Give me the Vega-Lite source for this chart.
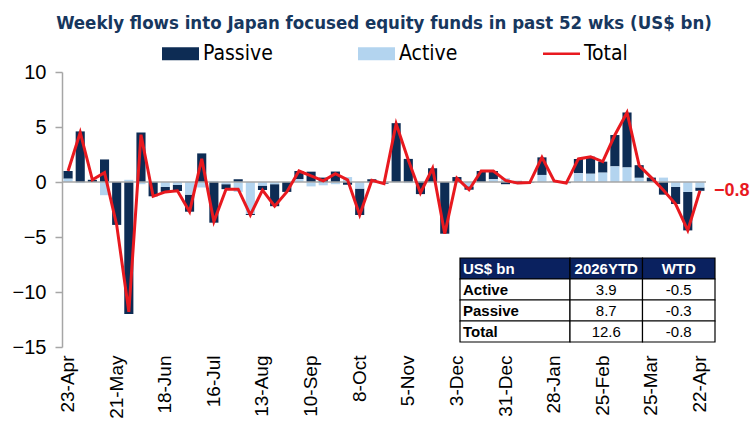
{
  "$schema": "https://vega.github.io/schema/vega-lite/v6.json",
  "width": 644,
  "height": 275,
  "autosize": {"type": "none"},
  "padding": {"left": 62, "top": 72, "right": 47, "bottom": 83},
  "background": "white",
  "title": {
    "text": "Weekly flows into Japan focused equity funds in past 52 wks (US$ bn)",
    "anchor": "middle",
    "font": "DejaVu Sans Condensed",
    "fontSize": 18.5,
    "fontWeight": "bold",
    "color": "#17375E",
    "offset": 3
  },
  "config": {
    "view": {"stroke": null},
    "axis": {"labelFont": "Liberation Sans", "grid": false}
  },
  "datasets": {
    "weeks": [
      {"week": "23-Apr", "Passive": 0.7, "Active": 0.3, "Total": 1.0},
      {"week": "30-Apr", "Passive": 4.6, "Active": -0.1, "Total": 4.5},
      {"week": "7-May", "Passive": 0.2, "Active": 0.0, "Total": 0.2},
      {"week": "14-May", "Passive": 2.05, "Active": -1.2, "Total": 0.85},
      {"week": "21-May", "Passive": -3.9, "Active": 0.0, "Total": -3.9},
      {"week": "28-May", "Passive": -12.0, "Active": 0.2, "Total": -11.8},
      {"week": "4-Jun", "Passive": 4.5, "Active": -0.2, "Total": 4.3},
      {"week": "11-Jun", "Passive": -1.3, "Active": 0.0, "Total": -1.3},
      {"week": "18-Jun", "Passive": -0.45, "Active": -0.45, "Total": -0.9},
      {"week": "25-Jun", "Passive": -0.55, "Active": -0.27, "Total": -0.8},
      {"week": "2-Jul", "Passive": -1.55, "Active": -1.15, "Total": -2.7},
      {"week": "9-Jul", "Passive": 2.6, "Active": -0.5, "Total": 2.1},
      {"week": "16-Jul", "Passive": -3.7, "Active": 0.1, "Total": -3.6},
      {"week": "23-Jul", "Passive": -0.45, "Active": -0.2, "Total": -0.65},
      {"week": "30-Jul", "Passive": 0.25, "Active": -0.9, "Total": -0.65},
      {"week": "6-Aug", "Passive": -0.1, "Active": -2.9, "Total": -3.0},
      {"week": "13-Aug", "Passive": -0.4, "Active": -0.33, "Total": -0.73},
      {"week": "20-Aug", "Passive": -2.0, "Active": -0.2, "Total": -2.2},
      {"week": "27-Aug", "Passive": -0.9, "Active": 0.0, "Total": -0.9},
      {"week": "3-Sep", "Passive": 0.73, "Active": 0.27, "Total": 1.0},
      {"week": "10-Sep", "Passive": 0.94, "Active": -0.4, "Total": 0.55},
      {"week": "17-Sep", "Passive": 0.4, "Active": -0.3, "Total": 0.1},
      {"week": "24-Sep", "Passive": 0.95, "Active": -0.2, "Total": 0.75},
      {"week": "1-Oct", "Passive": -0.25, "Active": 0.45, "Total": 0.2},
      {"week": "8-Oct", "Passive": -2.4, "Active": -0.6, "Total": -3.0},
      {"week": "15-Oct", "Passive": 0.25, "Active": -0.1, "Total": 0.15},
      {"week": "22-Oct", "Passive": -0.1, "Active": -0.05, "Total": -0.15},
      {"week": "29-Oct", "Passive": 5.35, "Active": -0.05, "Total": 5.3},
      {"week": "5-Nov", "Passive": 2.1, "Active": -0.1, "Total": 2.0},
      {"week": "12-Nov", "Passive": -1.1, "Active": 0.1, "Total": -1.0},
      {"week": "19-Nov", "Passive": 1.25, "Active": 0.0, "Total": 1.25},
      {"week": "26-Nov", "Passive": -4.7, "Active": 0.0, "Total": -4.7},
      {"week": "3-Dec", "Passive": 0.45, "Active": -0.1, "Total": 0.35},
      {"week": "10-Dec", "Passive": -0.3, "Active": -0.4, "Total": -0.7},
      {"week": "17-Dec", "Passive": 1.0, "Active": 0.0, "Total": 1.0},
      {"week": "24-Dec", "Passive": 0.75, "Active": 0.25, "Total": 1.0},
      {"week": "31-Dec", "Passive": -0.2, "Active": 0.35, "Total": 0.15},
      {"week": "7-Jan", "Passive": 0.1, "Active": -0.2, "Total": -0.1},
      {"week": "14-Jan", "Passive": -0.05, "Active": 0.0, "Total": -0.05},
      {"week": "21-Jan", "Passive": 1.6, "Active": 0.64, "Total": 2.24},
      {"week": "28-Jan", "Passive": 0.0, "Active": 0.1, "Total": 0.1},
      {"week": "4-Feb", "Passive": -0.1, "Active": 0.0, "Total": -0.1},
      {"week": "11-Feb", "Passive": 1.3, "Active": 0.8, "Total": 2.1},
      {"week": "18-Feb", "Passive": 1.55, "Active": 0.75, "Total": 2.3},
      {"week": "25-Feb", "Passive": 1.0, "Active": 0.85, "Total": 1.85},
      {"week": "4-Mar", "Passive": 2.85, "Active": 1.42, "Total": 4.27},
      {"week": "11-Mar", "Passive": 5.0, "Active": 1.32, "Total": 6.32},
      {"week": "18-Mar", "Passive": 1.15, "Active": 0.38, "Total": 1.5},
      {"week": "25-Mar", "Passive": 0.4, "Active": 0.0, "Total": 0.4},
      {"week": "1-Apr", "Passive": -1.15, "Active": 0.4, "Total": -0.75},
      {"week": "8-Apr", "Passive": -1.55, "Active": -0.45, "Total": -2.0},
      {"week": "15-Apr", "Passive": -3.5, "Active": -0.9, "Total": -4.4},
      {"week": "22-Apr", "Passive": -0.3, "Active": -0.5, "Total": -0.8}
    ],
    "tableRows": [
      {"row": "US$ bn"},
      {"row": "Active"},
      {"row": "Passive"},
      {"row": "Total"}
    ],
    "tableCells": [
      {"row": "US$ bn", "col": "2026YTD", "txt": "2026YTD"},
      {"row": "US$ bn", "col": "WTD", "txt": "WTD"},
      {"row": "Active", "col": "2026YTD", "txt": "3.9"},
      {"row": "Active", "col": "WTD", "txt": "-0.5"},
      {"row": "Passive", "col": "2026YTD", "txt": "8.7"},
      {"row": "Passive", "col": "WTD", "txt": "-0.3"},
      {"row": "Total", "col": "2026YTD", "txt": "12.6"},
      {"row": "Total", "col": "WTD", "txt": "-0.8"}
    ]
  },
  "layer": [
    {
      "data": {"name": "weeks"},
      "layer": [
        {
          "transform": [{"fold": ["Passive", "Active"], "as": ["type", "value"]}],
          "mark": {"type": "bar"},
          "encoding": {
            "x": {
              "field": "week", "type": "ordinal", "sort": null,
              "scale": {"paddingInner": 0.25, "paddingOuter": 0.125},
              "axis": {
                "values": ["23-Apr", "21-May", "18-Jun", "16-Jul", "13-Aug", "10-Sep", "8-Oct", "5-Nov", "3-Dec", "31-Dec", "28-Jan", "25-Feb", "25-Mar", "22-Apr"],
                "title": null, "labelAngle": -90, "domain": false, "ticks": false, "tickSize": 0,
                "labelFontSize": 19, "labelColor": "black", "labelPadding": 8
              }
            },
            "y": {
              "field": "value", "type": "quantitative", "stack": "zero",
              "scale": {"domain": [-15, 10], "nice": false, "zero": true},
              "axis": {
                "values": [-15, -10, -5, 0, 5, 10], "title": null, "grid": false,
                "domainColor": "#A6A6A6", "domainWidth": 1.5, "tickColor": "#A6A6A6", "tickSize": 7, "tickWidth": 1.5,
                "labelFontSize": 20, "labelColor": "black", "labelPadding": 9
              }
            },
            "color": {
              "field": "type", "type": "nominal",
              "scale": {"domain": ["Passive", "Active", "Total"], "range": ["#0D2C54", "#B3D4EF", "#E8191F"]},
              "legend": {
                "title": null, "orient": "none", "legendX": 100, "legendY": -37, "direction": "horizontal",
                "labelFont": "DejaVu Sans Condensed", "labelFontSize": 21, "labelColor": "black",
                "symbolSize": 1369, "labelOffset": 4, "columnPadding": 85, "symbolStrokeWidth": 0,
                "encode": {
                  "symbols": {
                    "update": {
                      "shape": {"signal": "datum.value === 'Total' ? 'M-1,-0.07H1V0.07H-1Z' : 'M-1,-0.35H1V0.35H-1Z'"},
                      "fill": {"signal": "scale('color', datum.value)"},
                      "stroke": {"value": "transparent"},
                      "opacity": {"value": 1},
                      "fillOpacity": {"value": 1}
                    }
                  }
                }
              }
            },
            "order": {"field": "type", "sort": "ascending"}
          }
        },
        {
          "data": {"values": [{}]},
          "mark": {"type": "rule", "color": "#A6A6A6", "strokeWidth": 1.5},
          "encoding": {"y": {"datum": 0, "type": "quantitative"}}
        },
        {
          "mark": {"type": "line", "strokeWidth": 3},
          "encoding": {
            "x": {"field": "week", "type": "ordinal", "sort": null},
            "y": {"field": "Total", "type": "quantitative"},
            "color": {"datum": "Total"}
          }
        },
        {
          "transform": [{"filter": "datum.week === '22-Apr'"}],
          "mark": {"type": "text", "align": "left", "baseline": "middle", "dx": 14, "fontSize": 18, "fontWeight": "bold", "font": "Liberation Sans", "color": "#E8191F"},
          "encoding": {
            "x": {"field": "week", "type": "ordinal", "sort": null},
            "y": {"field": "Total", "type": "quantitative"},
            "text": {"field": "Total", "type": "quantitative", "format": ".1f"}
          }
        }
      ]
    },
    {
      "data": {"name": "tableRows"},
      "encoding": {
        "y": {
          "field": "row", "type": "nominal", "sort": null,
          "scale": {"domain": ["US$ bn", "Active", "Passive", "Total"], "range": [186, 270], "paddingInner": 0, "paddingOuter": 0},
          "axis": null
        }
      },
      "layer": [
        {
          "mark": {"type": "rect", "stroke": "black", "strokeWidth": 1.2},
          "encoding": {
            "x": {"datum": "label", "type": "nominal", "scale": {"domain": ["label"], "range": [398, 508], "paddingInner": 0, "paddingOuter": 0}, "axis": null},
            "fill": {"condition": {"test": "datum.row === 'US$ bn'", "value": "#0A215F"}, "value": "white"}
          }
        },
        {
          "mark": {"type": "text", "align": "left", "baseline": "middle", "dx": 3, "fontSize": 15, "fontWeight": "bold", "font": "Liberation Sans"},
          "encoding": {
            "x": {"datum": "label", "type": "nominal", "bandPosition": 0},
            "text": {"field": "row"},
            "color": {"condition": {"test": "datum.row === 'US$ bn'", "value": "white"}, "value": "black"}
          }
        }
      ]
    },
    {
      "data": {"name": "tableCells"},
      "encoding": {
        "y": {
          "field": "row", "type": "nominal", "sort": null,
          "scale": {"domain": ["US$ bn", "Active", "Passive", "Total"], "range": [186, 270], "paddingInner": 0, "paddingOuter": 0},
          "axis": null
        },
        "x": {"field": "col", "type": "nominal", "sort": null, "scale": {"domain": ["2026YTD", "WTD"], "range": [508, 653], "paddingInner": 0, "paddingOuter": 0}, "axis": null}
      },
      "layer": [
        {
          "mark": {"type": "rect", "stroke": "black", "strokeWidth": 1.2},
          "encoding": {
            "fill": {"condition": {"test": "datum.row === 'US$ bn'", "value": "#0A215F"}, "value": "white"}
          }
        },
        {
          "transform": [{"filter": "datum.row === 'US$ bn'"}],
          "mark": {"type": "text", "align": "center", "baseline": "middle", "fontSize": 15, "fontWeight": "bold", "font": "Liberation Sans", "color": "white"},
          "encoding": {"text": {"field": "txt"}}
        },
        {
          "transform": [{"filter": "datum.row !== 'US$ bn'"}],
          "mark": {"type": "text", "align": "center", "baseline": "middle", "fontSize": 15, "font": "Liberation Sans", "color": "black"},
          "encoding": {"text": {"field": "txt"}}
        }
      ]
    }
  ],
  "resolve": {"scale": {"x": "independent", "y": "independent"}}
}
